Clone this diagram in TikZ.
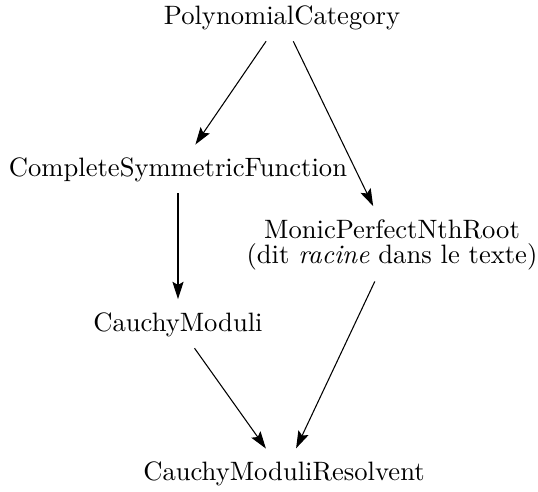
\documentclass[tikz,border=0pt]{standalone}
\usepackage{tikz}
\usetikzlibrary{arrows.meta}

\begin{document}
\begin{tikzpicture}[
    x=0.376pt, y=-0.376pt,
    cat/.style={inner sep=4pt, align=center, font=\normalsize},
    arrow/.style={-{Stealth[length=6.5pt, width=4.2pt, inset=1.2pt]}, shorten >=1pt},
]
\useasboundingbox (0,0) rectangle (538,492);

% Categories
\node[cat] (pc) at (282,18) {PolynomialCategory};
\node[cat] (csf) at (178,170) {CompleteSymmetricFunction};
\node[cat] (mpn) at (392,245) {MonicPerfectNthRoot\\[-2.5pt](dit \emph{racine} dans le texte)};
\node[cat] (cm) at (178,325) {CauchyModuli};
\node[cat] (cmr) at (284,474) {CauchyModuliResolvent};

% Arrows
\draw[arrow] (pc) -- (csf);
\draw[arrow] (pc) -- (mpn);
\draw[arrow] (csf) -- (cm);
\draw[arrow] (cm) -- (cmr);
\draw[arrow] (mpn) -- (cmr);

\end{tikzpicture}
\end{document}
